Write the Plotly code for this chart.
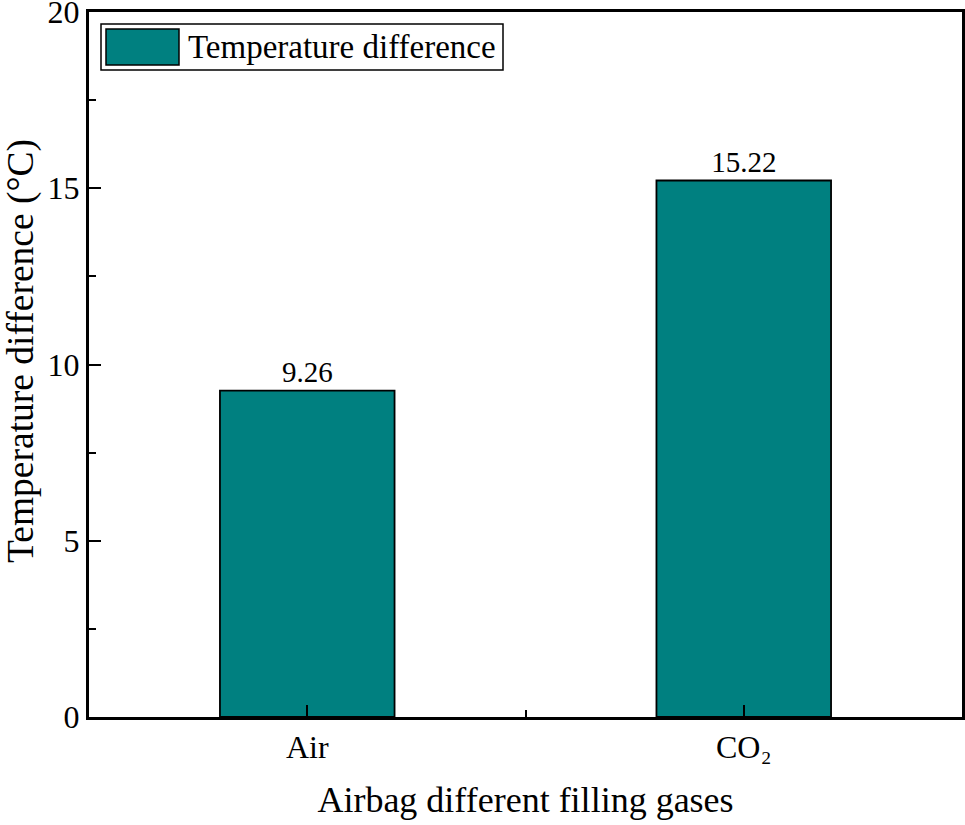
import plotly.graph_objects as go

categories = ["Air", "CO₂"]
temperature_difference = [9.26, 15.22]
series_name = "Temperature difference"
y_ticks = [0, 5, 10, 15, 20]
x_title = "Airbag different filling gases"
y_title = "Temperature difference (°C)"

FONT = "Liberation Serif, Times New Roman, serif"
BAR_COLOR = "#008080"

x_pos = list(range(len(categories)))

fig = go.Figure()
fig.add_trace(go.Bar(
    x=x_pos,
    y=temperature_difference,
    width=0.4,
    marker=dict(color=BAR_COLOR, line=dict(color="black", width=1.8)),
    text=[f"{v:.2f}" for v in temperature_difference],
    textposition="outside",
    textfont=dict(family=FONT, size=29, color="black"),
    cliponaxis=False,
    name=series_name,
    showlegend=False,
))

W, H = 965, 825
L, R, T, B = 89, 3, 12, 108
pw, ph = W - L - R, H - T - B

def px_x(x):
    return (x - L) / pw

def px_y(y):
    return (H - B - y) / ph

# custom legend (box, swatch, label)
fig.add_shape(type="rect", xref="paper", yref="paper",
              x0=px_x(101), x1=px_x(503), y0=px_y(70), y1=px_y(24),
              line=dict(color="black", width=1.5), fillcolor="white")
fig.add_shape(type="rect", xref="paper", yref="paper",
              x0=px_x(106), x1=px_x(179), y0=px_y(65), y1=px_y(29),
              line=dict(color="black", width=1.5), fillcolor=BAR_COLOR)
fig.add_annotation(xref="paper", yref="paper", x=px_x(186), y=px_y(47),
                   text=series_name, showarrow=False, xanchor="left", yanchor="middle",
                   font=dict(family=FONT, size=33, color="black"))

# y-axis title
fig.add_annotation(xref="paper", yref="paper", x=px_x(21), y=px_y(351),
                   text=y_title, textangle=-90, showarrow=False,
                   xanchor="center", yanchor="middle",
                   font=dict(family=FONT, size=37.5, color="black"))

fig.update_layout(
    width=W, height=H,
    margin=dict(l=L, r=R, t=T, b=B, autoexpand=False),
    plot_bgcolor="white", paper_bgcolor="white",
    font=dict(family=FONT, size=32, color="black"),
    xaxis=dict(
        range=[-0.5, 1.5],
        tickmode="array", tickvals=x_pos, ticktext=categories,
        ticks="inside", ticklen=12, tickwidth=2, tickcolor="black",
        minor=dict(tickmode="array", tickvals=[0.5], ticks="inside", ticklen=7, tickwidth=2, tickcolor="black"),
        showline=True, linecolor="black", linewidth=3, mirror=True,
        showgrid=False, zeroline=False, automargin=False,
        ticklabeloverflow="allow",
        tickfont=dict(family=FONT, size=32),
        title=dict(text=x_title, font=dict(family=FONT, size=36), standoff=23),
    ),
    yaxis=dict(
        range=[0, 20],
        tickmode="array", tickvals=y_ticks,
        ticks="inside", ticklen=12, tickwidth=2, tickcolor="black",
        minor=dict(dtick=2.5, tick0=0, ticks="inside", ticklen=7, tickwidth=2, tickcolor="black"),
        showline=True, linecolor="black", linewidth=3, mirror=True,
        showgrid=False, zeroline=False, automargin=False,
        ticklabeloverflow="allow",
        tickfont=dict(family=FONT, size=32),
    ),
)

fig.write_html(
    "out.html",
    config={"displayModeBar": False},
    post_script="document.body.style.margin='0';document.body.style.overflow='hidden';",
)
